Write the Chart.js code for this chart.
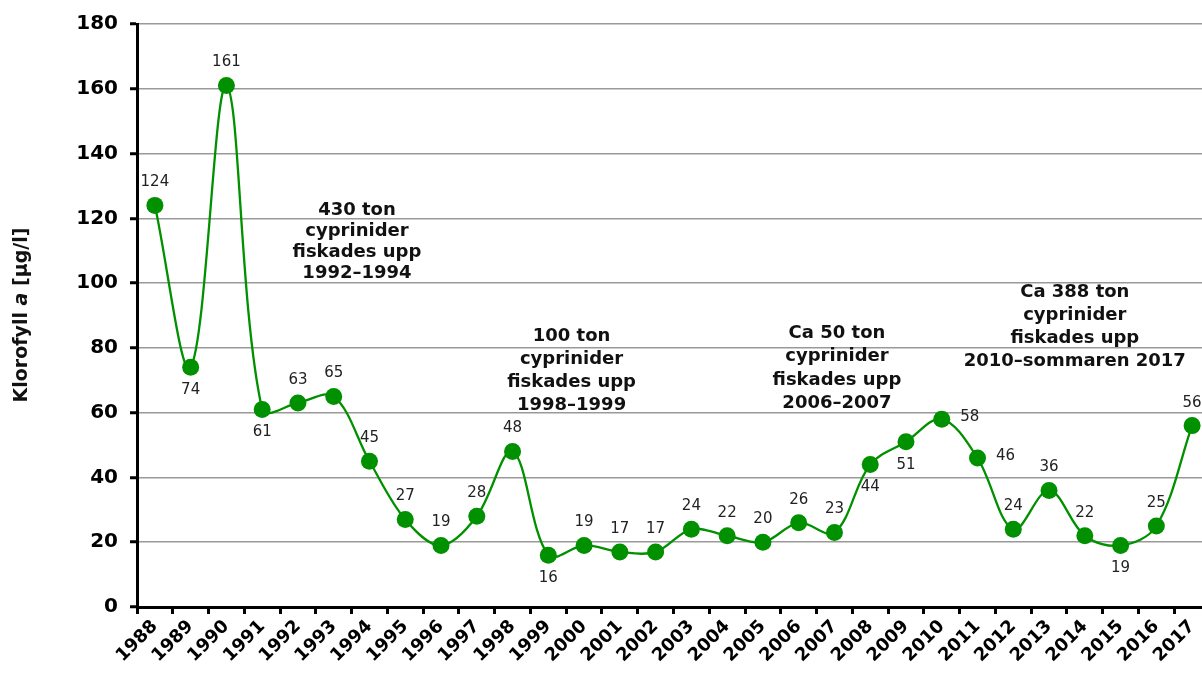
<!DOCTYPE html>
<html>
<head>
<meta charset="utf-8">
<script src="https://cdn.jsdelivr.net/npm/chart.js@4/dist/chart.umd.min.js"></script>
<style>
  html, body { margin: 0; padding: 0; background: #fff; overflow: hidden; }
  /* the plot runs a little past the right edge of the window, as in the reference */
  #wrap { width: 1210px; height: 682px; position: relative; }
</style>
</head>
<body>
<div id="wrap"><canvas id="chart"></canvas></div>
<script>
// data
const years = ["1988","1989","1990","1991","1992","1993","1994","1995","1996","1997",
  "1998","1999","2000","2001","2002","2003","2004","2005","2006","2007",
  "2008","2009","2010","2011","2012","2013","2014","2015","2016","2017"];
const chlorophyll = [124, 74, 161, 61, 63, 65, 45, 27, 19, 28,
  48, 16, 19, 17, 17, 24, 22, 20, 26, 23,
  44, 51, 58, 46, 24, 36, 22, 19, 25, 56];
const labelSide = ["top","bottom","top","bottom","top","top","top","top","top","top",
  "top","bottom","top","top","top","top","top","top","top","top",
  "bottom","bottom","right","right","top","top","top","bottom","top","top"];
const yTicks = [0, 20, 40, 60, 80, 100, 120, 140, 160, 180];

// text notes: x is a category index, y a value on the axis
const notes = [
  { x: 5.65, y: 122.5, gap: 21, lines: ["430 ton", "cyprinider", "fiskades upp", "1992\u20131994"] },
  { x: 11.65, y: 83.5, gap: 23, lines: ["100 ton", "cyprinider", "fiskades upp", "1998\u20131999"] },
  { x: 19.07, y: 84.5, gap: 23.5, lines: ["Ca 50 ton", "cyprinider", "fiskades upp", "2006\u20132007"] },
  { x: 25.72, y: 97.2, gap: 23, lines: ["Ca 388 ton", "cyprinider", "fiskades upp", "2010\u2013sommaren 2017"] }
];

const GREEN = "#009000";
const FONT = "'DejaVu Sans', Verdana, sans-serif";

// LABELS ON POINTS
const pointLabels = {
  id: "pointLabels",
  afterDatasetsDraw(chart) {
    const ctx = chart.ctx;
    const meta = chart.getDatasetMeta(0);
    ctx.save();
    ctx.font = "15px " + FONT;
    ctx.fillStyle = "#222";
    ctx.textAlign = "center";
    ctx.textBaseline = "middle";
    meta.data.forEach((pt, i) => {
      let x = pt.x, y = pt.y;
      const side = labelSide[i];
      if (side === "top") y -= 23;
      else if (side === "bottom") y += 23;
      else if (side === "right") { x += 28; y -= 2; }
      ctx.fillText(String(chlorophyll[i]), x, y);
    });
    ctx.restore();
  }
};

// NOTES + Y TITLE
const extraText = {
  id: "extraText",
  afterDraw(chart) {
    const ctx = chart.ctx;
    const xs = chart.scales.x, ys = chart.scales.y;
    ctx.save();
    ctx.font = "bold 18px " + FONT;
    ctx.fillStyle = "#111";
    ctx.textAlign = "center";
    ctx.textBaseline = "middle";
    notes.forEach(n => {
      const cx = xs.getPixelForValue(n.x);
      const cy = ys.getPixelForValue(n.y);
      n.lines.forEach((line, k) => ctx.fillText(line, cx, cy + k * n.gap));
    });

    // y axis title with italic "a"
    ctx.translate(22, 315);
    ctx.rotate(-Math.PI / 2);
    const parts = [
      { t: "Klorofyll ", f: "bold 19px " + FONT },
      { t: "a", f: "italic bold 19px " + FONT },
      { t: " [\u00b5g/l]", f: "bold 19px " + FONT }
    ];
    let total = 0;
    parts.forEach(p => { ctx.font = p.f; total += ctx.measureText(p.t).width; });
    let px = -total / 2;
    ctx.textAlign = "left";
    parts.forEach(p => {
      ctx.font = p.f;
      ctx.fillText(p.t, px, 0);
      px += ctx.measureText(p.t).width;
    });
    ctx.restore();
  }
};

new Chart(document.getElementById("chart"), {
  type: "line",
  data: {
    labels: years,
    datasets: [{
      data: chlorophyll,
      borderColor: GREEN,
      backgroundColor: GREEN,
      borderWidth: 2.3,
      pointRadius: 8.5,
      pointHoverRadius: 8.5,
      pointBorderWidth: 0,
      tension: 0.35,
      fill: false
    }]
  },
  options: {
    responsive: true,
    maintainAspectRatio: false,
    animation: false,
    layout: { autoPadding: false, padding: { top: 22, right: 0, left: 0, bottom: 0 } },
    plugins: {
      legend: { display: false },
      tooltip: { enabled: false }
    },
    scales: {
      x: {
        offset: true,
        grid: {
          offset: true,
          drawOnChartArea: false,
          drawTicks: true,
          tickLength: 7,
          tickWidth: 3,
          tickColor: "#000"
        },
        border: { color: "#000", width: 3 },
        ticks: {
          autoSkip: false,
          maxRotation: 45,
          minRotation: 45,
          padding: 2,
          color: "#000",
          font: { family: FONT, size: 18, weight: "bold" }
        },
        afterFit(scale) { scale.height = 75; }
      },
      y: {
        min: 0,
        max: 180,
        afterBuildTicks(scale) { scale.ticks = yTicks.map(v => ({ value: v })); },
        grid: {
          color: "#999",
          lineWidth: 1.5,
          tickLength: 7,
          tickColor: "#000",
          tickWidth: 3
        },
        border: { color: "#000", width: 3 },
        ticks: {
          padding: 12,
          color: "#000",
          font: { family: FONT, size: 20, weight: "bold" }
        },
        afterFit(scale) { scale.width = 137; }
      }
    }
  },
  plugins: [pointLabels, extraText]
});
</script>
</body>
</html>
